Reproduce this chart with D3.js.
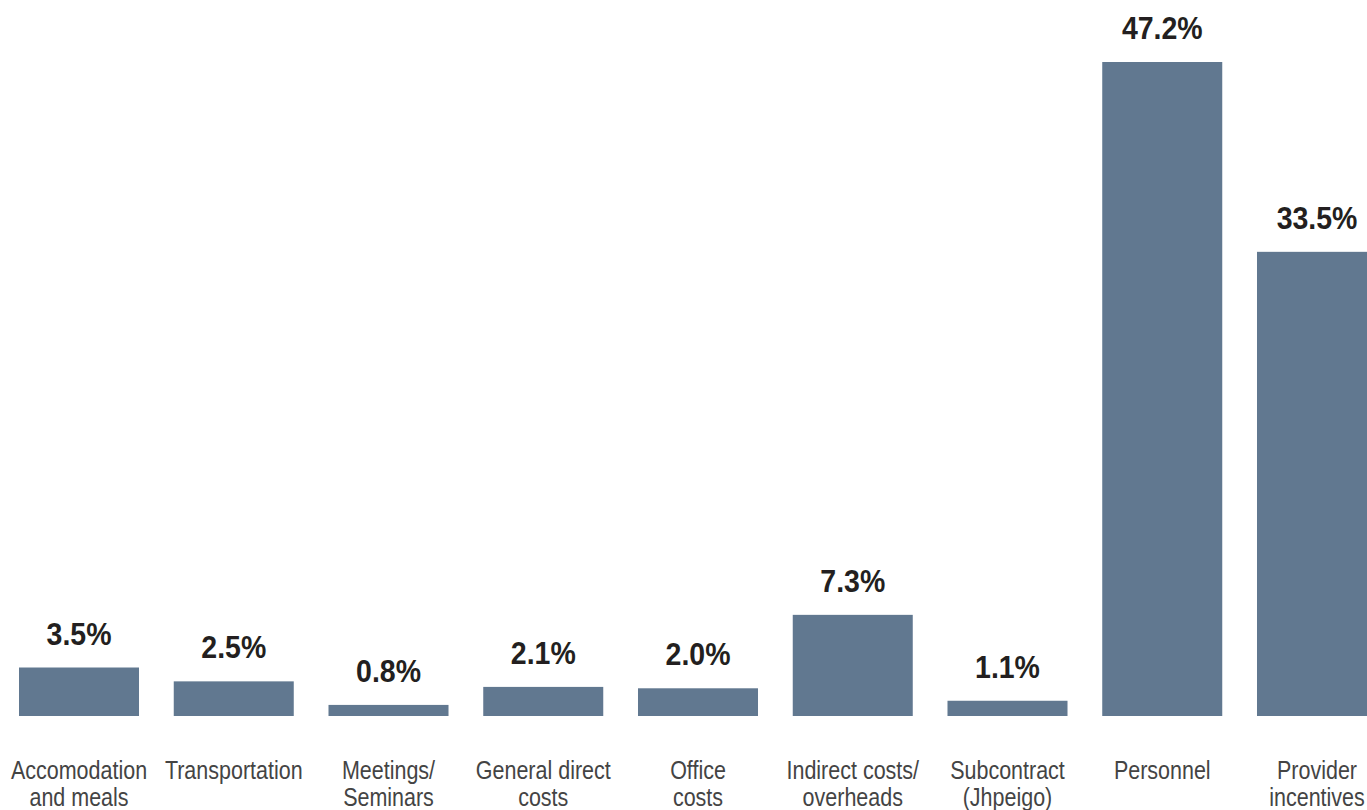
<!DOCTYPE html>
<html>
<head>
<meta charset="utf-8">
<script src="https://cdn.jsdelivr.net/npm/d3@7"></script>
<style>
  html, body { margin: 0; padding: 0; background: #ffffff; }
  svg { display: block; }
</style>
</head>
<body>
<svg id="chart" width="1367" height="810"></svg>
<script>
// budget share by cost category
const categories = [
  ["Accomodation", "and meals"],
  ["Transportation"],
  ["Meetings/", "Seminars"],
  ["General direct", "costs"],
  ["Office", "costs"],
  ["Indirect costs/", "overheads"],
  ["Subcontract", "(Jhpeigo)"],
  ["Personnel"],
  ["Provider", "incentives"]
];
const shares = [3.5, 2.5, 0.8, 2.1, 2.0, 7.3, 1.1, 47.2, 33.5];

const svg = d3.select("#chart");
const baseline = 716;

const ids = d3.range(categories.length);

let x = d3.scaleBand()
    .domain(ids)
    .range([19, 1377])
    .paddingInner(0.2245)
    .paddingOuter(0);

let y = d3.scaleLinear()
    .domain([0, d3.max(shares)])
    .range([baseline, 62]);

function cx(d) { return x(d) + x.bandwidth() / 2; }

svg.append("g")
    .selectAll("rect")
    .data(ids)
    .enter().append("rect")
    .attr("x", function(d) { return x(d); })
    .attr("y", function(d) { return y(shares[d]); })
    .attr("width", x.bandwidth())
    .attr("height", function(d) { return baseline - y(shares[d]); })
    .attr("fill", "#617890");

// value labels (condensed by horizontal scaling, no narrow font available)
svg.append("g")
    .selectAll("text")
    .data(ids)
    .enter().append("text")
    .attr("transform", function(d) {
        return "translate(" + cx(d) + "," + (y(shares[d]) - 23) + ") scale(0.89,1)";
    })
    .attr("text-anchor", "middle")
    .style("font-family", "'Liberation Sans', Arial, sans-serif")
    .style("font-weight", "bold")
    .style("font-size", "32px")
    .style("fill", "#231f20")
    .text(function(d) { return shares[d].toFixed(1) + "%"; });

// category labels
let cat = svg.append("g")
    .selectAll("text")
    .data(ids)
    .enter().append("text")
    .attr("transform", function(d) { return "translate(" + cx(d) + ",779) scale(0.86,1)"; })
    .attr("text-anchor", "middle")
    .style("font-family", "'Liberation Sans', Arial, sans-serif")
    .style("font-size", "25px")
    .style("fill", "#444444");

cat.each(function(d) {
    let t = d3.select(this);
    categories[d].forEach(function(line, i) {
        t.append("tspan")
            .attr("x", 0)
            .attr("dy", i === 0 ? 0 : 27)
            .text(line);
    });
});
</script>
</body>
</html>
